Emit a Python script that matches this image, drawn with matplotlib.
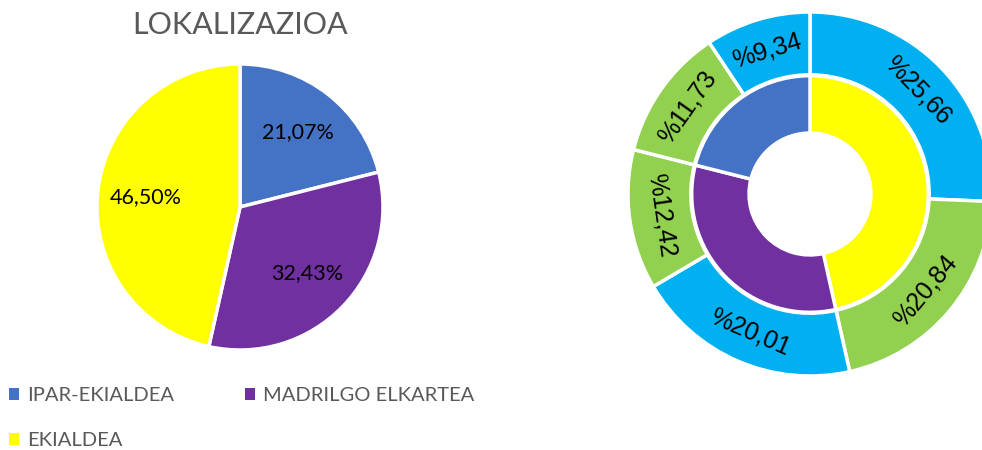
import matplotlib.pyplot as plt
import numpy as np
from matplotlib.patches import Patch

# --- Data ---
categories = ['IPAR-EKIALDEA', 'MADRILGO ELKARTEA', 'EKIALDEA']
shares = [21.07, 32.43, 46.50]
cat_colors = ['#4472C4', '#7030A0', '#FFFF00']

# outer ring of the donut, clockwise from the top
outer_vals = [25.66, 20.84, 20.01, 12.42, 11.73, 9.34]
outer_colors = ['#00B0F0', '#92D050', '#00B0F0', '#92D050', '#92D050', '#00B0F0']

W, H = 982, 450
fig = plt.figure(figsize=(W / 100, H / 100), dpi=100)


def px_axes(cx, cy, r):
    # axes box (in pixels, y from top) around a circle of radius r
    return fig.add_axes([(cx - r) / W, (H - cy - r) / H, 2 * r / W, 2 * r / H])


# --- Left pie ---
ax1 = px_axes(240, 207, 143)
ax1.pie(shares, colors=cat_colors, startangle=90, counterclock=False,
        radius=1, autopct=lambda p: f'{p:.2f}%'.replace('.', ','),
        pctdistance=0.66,
        wedgeprops=dict(edgecolor='white', linewidth=2.5),
        textprops=dict(fontsize=15.5, family='Lato', color='black'))
ax1.set_xlim(-1, 1)
ax1.set_ylim(-1, 1)
ax1.set_aspect('equal')
fig.text(240 / W, 1 - 25 / H, 'LOKALIZAZIOA', ha='center', va='center',
         fontsize=22, family='Lato', color='#595959')

# --- Right donut ---
ax2 = px_axes(810, 194, 182)
inner_vals = shares[::-1]
inner_colors = cat_colors[::-1]
ax2.pie(inner_vals, colors=inner_colors, startangle=90, counterclock=False,
        radius=0.65, wedgeprops=dict(width=0.315, edgecolor='white', linewidth=2.5))
wedges, _ = ax2.pie(outer_vals, colors=outer_colors, startangle=90, counterclock=False,
                    radius=1.0, wedgeprops=dict(width=0.345, edgecolor='white', linewidth=2.5))
for w, v in zip(wedges, outer_vals):
    mid = (w.theta1 + w.theta2) / 2
    rot = mid - 90
    while rot > 90:
        rot -= 180
    while rot < -90:
        rot += 180
    x = 0.825 * np.cos(np.radians(mid))
    y = 0.825 * np.sin(np.radians(mid))
    ax2.text(x, y, '%' + f'{v:.2f}'.replace('.', ','), ha='center', va='center',
             rotation=rot, rotation_mode='anchor', fontsize=18,
             family='Liberation Sans', color='black')
ax2.set_xlim(-1, 1)
ax2.set_ylim(-1, 1)
ax2.set_aspect('equal')

# --- Legend (row-wise order) ---
handles = [Patch(facecolor=c, edgecolor='none') for c in cat_colors]
order = [0, 2, 1]
fig.legend([handles[i] for i in order], [categories[i] for i in order],
           ncol=2, loc='upper left', bbox_to_anchor=(9 / W, 1 - 387 / H),
           frameon=False, borderpad=0, borderaxespad=0,
           handlelength=0.5, handleheight=0.5, handletextpad=0.4,
           columnspacing=3.5, labelspacing=1.4,
           prop=dict(family='Lato', size=14.5), labelcolor='#595959')

fig.savefig('out.png', dpi=100)
